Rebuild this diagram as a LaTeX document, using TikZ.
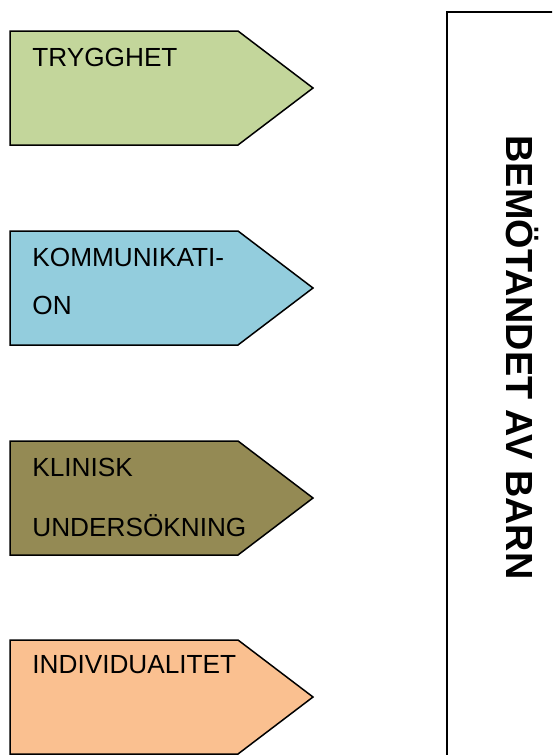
\documentclass[tikz,border=0pt]{standalone}
\usepackage{fontspec}
\setmainfont{Liberation Sans}
\usepackage{tikz}
\usetikzlibrary{positioning}
\definecolor{tagGreen}{HTML}{C3D69B}
\definecolor{tagBlue}{HTML}{93CDDD}
\definecolor{tagOlive}{HTML}{948A54}
\definecolor{tagOrange}{HTML}{FAC090}

\begin{document}
\begin{tikzpicture}[x=0.5pt, y=-0.5pt,
    tagshape/.style={draw=black, line width=0.75pt, line join=miter},
    tagtext/.style={anchor=base west, inner sep=0pt, font=\fontsize{13.1}{15}\selectfont},
    titletext/.style={font=\fontsize{18.9}{22}\selectfont\bfseries, rotate=-90, inner sep=0pt}]
    \useasboundingbox (0,0) rectangle (552,755);
    \clip (0,0) rectangle (552,755);

            \draw[tagshape, fill=tagGreen] (10,31) -- (238,31) -- (313,88) -- (238,145) -- (10,145) -- cycle;
            \draw[tagshape, fill=tagBlue] (10,231) -- (238,231) -- (313,288) -- (238,345) -- (10,345) -- cycle;
            \draw[tagshape, fill=tagOlive] (10,441) -- (238,441) -- (313,498) -- (238,555) -- (10,555) -- cycle;
            \draw[tagshape, fill=tagOrange] (10,640) -- (238,640) -- (313,697) -- (238,754) -- (10,754) -- cycle;

            \node[tagtext] (trygghet) at (32,66.5) {TRYGGHET};
            \node[tagtext] (kommA) at (32,266.5) {KOMMUNIKATI-};
            \node[tagtext] (kommB) at (32,314.5) {ON};
            \node[tagtext] (klinA) at (32,476.5) {KLINISK};
            \node[tagtext] (klinB) at (32,536.5) {UNDERSÖKNING};
            \node[tagtext] (indiv) at (32,673.5) {INDIVIDUALITET};

            \draw[line width=0.75pt] (447,12) rectangle (570,770);
            \node[titletext] (bemotande) at (522,357.5) {BEMÖTANDET AV BARN};
        \end{tikzpicture}
\end{document}
